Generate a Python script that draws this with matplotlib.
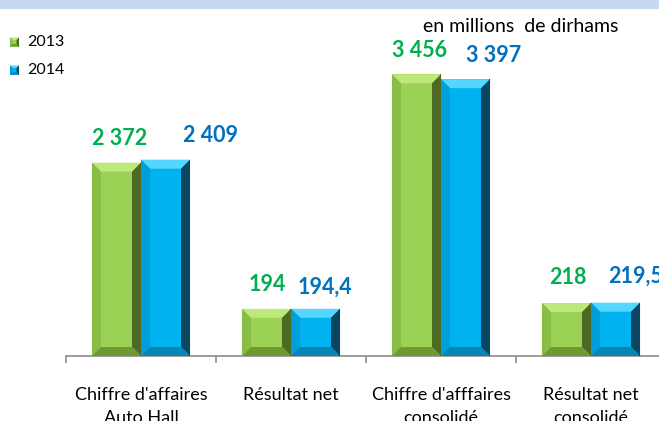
import matplotlib
matplotlib.use("Agg")
import matplotlib.pyplot as plt
from matplotlib.patches import Polygon, Rectangle
from matplotlib.transforms import IdentityTransform

plt.rcParams['font.family'] = ['Lato', 'DejaVu Sans']

# data
categories = ["Chiffre d'affaires\nAuto Hall", "Résultat net",
              "Chiffre d'afffaires\nconsolidé", "Résultat net\nconsolidé"]
values_2013 = [2372, 194, 3456, 218]
values_2014 = [2409, 194.4, 3397, 219.5]
labels_2013 = ["2 372", "194", "3 456", "218"]
labels_2014 = ["2 409", "194,4", "3 397", "219,5"]
secondary = [False, True, False, True]   # Excel put the results on a second axis
years = ["2013", "2014"]

# label nudges in pixels (dx, dy above top of bar)
off_2013 = [(3.5, 24), (1, 24), (3.5, 24), (1, 26)]
off_2014 = [(45, 24), (9, 22), (28, 23.5), (20, 26)]

# colours: face, top, left, right, bottom
green = ["#9BD154", "#BDE87A", "#88BE45", "#4C6A22", "#6F9A33"]
blue = ["#00B3F0", "#55D6FF", "#009FDA", "#0B4660", "#0786B3"]
c_green_txt = "#00B050"
c_blue_txt = "#0070C0"

W, H = 659, 421
fig = plt.figure(figsize=(W / 100, H / 100), dpi=100)
fig.patch.set_facecolor("white")
ax = fig.add_axes([66 / W, 65 / H, 600 / W, 326 / H])
ax2 = ax.twinx()
ax.set_ylim(0, 4000)
ax2.set_ylim(0, 1342)
ax.set_xlim(-0.5, 3.5)
for a in (ax, ax2):
    for s in ("top", "left", "right"):
        a.spines[s].set_visible(False)
    a.set_yticks([])
ax2.spines["bottom"].set_visible(False)
ax.spines["bottom"].set_color("#8C8C8C")
ax.spines["bottom"].set_linewidth(1.2)
ax.set_xticks([i - 0.5 for i in range(5)])
ax.set_xticklabels([])
ax.tick_params(axis="x", which="major", length=5, width=1.2, color="#8C8C8C", direction="out")
ax.set_xticks(range(len(categories)), minor=True)
ax.set_xticklabels(categories, minor=True, fontsize=13, linespacing=1.6)
ax.tick_params(axis="x", which="minor", length=0, pad=22)

bw = 0.327
bars = []
for i, cat in enumerate(categories):
    a = ax2 if secondary[i] else ax
    b1 = a.bar(i - bw / 2, values_2013[i], bw, color=green[0], linewidth=0, zorder=2)[0]
    b2 = a.bar(i + bw / 2, values_2014[i], bw, color=blue[0], linewidth=0, zorder=2)[0]
    bars.append((a, b1, green, labels_2013[i], off_2013[i], c_green_txt))
    bars.append((a, b2, blue, labels_2014[i], off_2014[i], c_blue_txt))

fig.canvas.draw()


def bevel(x0, y0, x1, y1, cols, d):
    # y0 is bottom, y1 is top in display pixels
    pieces = [
        ([(x0, y1), (x1, y1), (x1 - d, y1 - d), (x0 + d, y1 - d)], cols[1]),
        ([(x0, y0), (x0 + d, y0 + d), (x0 + d, y1 - d), (x0, y1)], cols[2]),
        ([(x1, y0), (x1, y1), (x1 - d, y1 - d), (x1 - d, y0 + d)], cols[3]),
        ([(x0, y0), (x1, y0), (x1 - d, y0 + d), (x0 + d, y0 + d)], cols[4]),
    ]
    for pts, c in pieces:
        fig.add_artist(Polygon(pts, closed=True, facecolor=c, edgecolor="none",
                               transform=IdentityTransform(), zorder=3))
    fig.add_artist(Polygon([(x1 - 1.2, y0), (x1 - 1.2, y1), (x1, y1), (x1, y0)],
                           closed=True, facecolor=cols[3], edgecolor="none",
                           transform=IdentityTransform(), zorder=3))


for a, b, cols, txt, (dx, dy), tc in bars:
    bb = b.get_window_extent()
    bevel(bb.x0, bb.y0, bb.x1, bb.y1, cols, 9)
    cx = (bb.x0 + bb.x1) / 2 + dx
    cy = bb.y1 + dy
    fig.text(cx / W, cy / H, txt, color=tc, fontsize=15.5, fontweight="bold",
             ha="center", va="center")

# top band
fig.add_artist(Rectangle((0, 1 - 8.5 / H), 1, 8.5 / H, transform=fig.transFigure,
                         facecolor="#C6D9F1", edgecolor="none"))

fig.text(521 / W, 1 - 27 / H, "en millions  de dirhams", fontsize=14,
         ha="center", va="center", color="#000000")

# legend
for k, (yr, cols) in enumerate(zip(years, (green, blue))):
    yc = 42 + 28 * k
    x0, y0 = 10, H - yc - 4.5
    s = 9
    fig.add_artist(Rectangle((x0, y0), s, s, transform=IdentityTransform(),
                             facecolor=cols[0], edgecolor="none"))
    bevel(x0, y0, x0 + s, y0 + s, cols, 2.5)
    fig.text(27 / W, 1 - yc / H, yr, fontsize=11.5, ha="left", va="center")

fig.savefig("out.png", dpi=100)
